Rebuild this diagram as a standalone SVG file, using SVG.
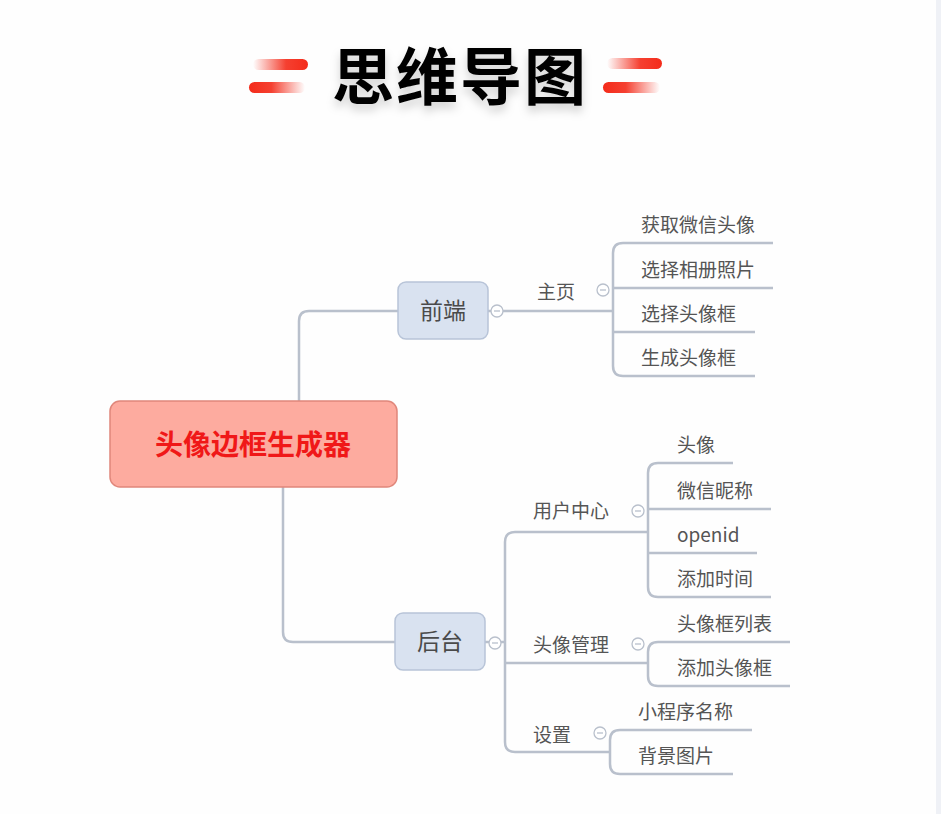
<svg xmlns="http://www.w3.org/2000/svg" width="941" height="814" viewBox="0 0 941 814">
<defs>
<linearGradient id="fadeL" x1="0" y1="0" x2="1" y2="0">
<stop offset="0" stop-color="#f42b1a" stop-opacity="0"/>
<stop offset="0.6" stop-color="#f42b1a" stop-opacity="0.9"/>
<stop offset="1" stop-color="#f42b1a"/>
</linearGradient>
<linearGradient id="fadeR" x1="0" y1="0" x2="1" y2="0">
<stop offset="0" stop-color="#f42b1a"/>
<stop offset="0.4" stop-color="#f42b1a" stop-opacity="0.9"/>
<stop offset="1" stop-color="#f42b1a" stop-opacity="0"/>
</linearGradient>
<filter id="shadow" x="-20%" y="-30%" width="140%" height="170%">
<feDropShadow dx="0" dy="6" stdDeviation="5" flood-color="#000" flood-opacity="0.18"/>
</filter>
</defs>
<style>
text{font-family:"Noto Sans CJK SC","Noto Sans",sans-serif}
.title{font-size:62px;font-weight:700;fill:#000;letter-spacing:2px}
.root{font-size:28px;font-weight:700;fill:#f01818}
.main{font-size:23px;fill:#4a4a4a}
.sub{font-size:19px;fill:#555}
.leaf{font-size:19px;fill:#555}
.conn{fill:none;stroke:#b9c0cc;stroke-width:2.5}
.tog{fill:#fff;stroke:#b9c0cc;stroke-width:1.3}
.togm{stroke:#b9c0cc;stroke-width:1.3}
.mnode{fill:#d9e2f0;stroke:#b8c4d8;stroke-width:1.5}
</style>
<rect width="941" height="814" fill="#fefefe"/>
<rect x="936" y="0" width="5" height="814" fill="#eff1f6"/>

<g id="title">
<rect x="253" y="59" width="55" height="11" rx="5.5" fill="url(#fadeL)"/>
<rect x="249" y="82" width="56" height="11" rx="5.5" fill="url(#fadeR)"/>
<rect x="607" y="58" width="55" height="11" rx="5.5" fill="url(#fadeL)"/>
<rect x="603" y="82" width="57" height="11" rx="5.5" fill="url(#fadeR)"/>
<text class="title" x="460" y="100" text-anchor="middle" filter="url(#shadow)">思维导图</text>
</g>

<g id="connectors">
<path class="conn" d="M299,401 V321 Q299,311 309,311 H398"/>
<path class="conn" d="M283,487 V632 Q283,642 293,642 H395"/>
<path class="conn" d="M488,311 H613"/>
<path class="conn" d="M773,243 H623 Q613,243 613,253 V366 Q613,376 623,376 H755"/>
<path class="conn" d="M613,288 H773"/>
<path class="conn" d="M613,332 H755"/>
<path class="conn" d="M485,642 H505"/>
<path class="conn" d="M648,532 H515 Q505,532 505,542 V742 Q505,752 515,752 H610"/>
<path class="conn" d="M505,663 H648"/>
<path class="conn" d="M733,463 H658 Q648,463 648,473 V587 Q648,597 658,597 H771"/>
<path class="conn" d="M648,509 H771"/>
<path class="conn" d="M648,553 H757"/>
<path class="conn" d="M790,642 H658 Q648,642 648,652 V676 Q648,686 658,686 H790"/>
<path class="conn" d="M752,730 H620 Q610,730 610,740 V764 Q610,774 620,774 H733"/>
</g>

<g id="root">
<rect x="110" y="401" width="287" height="86" rx="10" fill="#fdab9f" stroke="#e0877b" stroke-width="1.5"/>
<text class="root" x="253" y="455" text-anchor="middle">头像边框生成器</text>
</g>

<g id="frontend">
<rect class="mnode" x="398" y="282" width="90" height="57" rx="8"/>
<text class="main" x="443" y="319" text-anchor="middle">前端</text>
<circle class="tog" cx="497" cy="311" r="6"/><line class="togm" x1="494" y1="311" x2="500" y2="311"/>
</g>

<g id="home">
<text class="sub" x="537" y="299">主页</text>
<circle class="tog" cx="603" cy="290" r="6"/><line class="togm" x1="600" y1="290" x2="606" y2="290"/>
</g>
<g id="home-1"><text class="leaf" x="641" y="232">获取微信头像</text></g>
<g id="home-2"><text class="leaf" x="641" y="277">选择相册照片</text></g>
<g id="home-3"><text class="leaf" x="641" y="321">选择头像框</text></g>
<g id="home-4"><text class="leaf" x="641" y="365">生成头像框</text></g>

<g id="backend">
<rect class="mnode" x="395" y="613" width="90" height="57" rx="8"/>
<text class="main" x="440" y="650" text-anchor="middle">后台</text>
<circle class="tog" cx="495" cy="643" r="6"/><line class="togm" x1="492" y1="643" x2="498" y2="643"/>
</g>

<g id="user-center">
<text class="sub" x="533" y="518">用户中心</text>
<circle class="tog" cx="638" cy="511" r="6"/><line class="togm" x1="635" y1="511" x2="641" y2="511"/>
</g>
<g id="uc-1"><text class="leaf" x="677" y="452">头像</text></g>
<g id="uc-2"><text class="leaf" x="677" y="498">微信昵称</text></g>
<g id="uc-3"><text class="leaf" x="677" y="542">openid</text></g>
<g id="uc-4"><text class="leaf" x="677" y="586">添加时间</text></g>

<g id="avatar-mgmt">
<text class="sub" x="533" y="652">头像管理</text>
<circle class="tog" cx="638" cy="644" r="6"/><line class="togm" x1="635" y1="644" x2="641" y2="644"/>
</g>
<g id="am-1"><text class="leaf" x="677" y="631">头像框列表</text></g>
<g id="am-2"><text class="leaf" x="677" y="675">添加头像框</text></g>

<g id="settings">
<text class="sub" x="533" y="742">设置</text>
<circle class="tog" cx="600" cy="733" r="6"/><line class="togm" x1="597" y1="733" x2="603" y2="733"/>
</g>
<g id="st-1"><text class="leaf" x="638" y="719">小程序名称</text></g>
<g id="st-2"><text class="leaf" x="638" y="763">背景图片</text></g>
</svg>
